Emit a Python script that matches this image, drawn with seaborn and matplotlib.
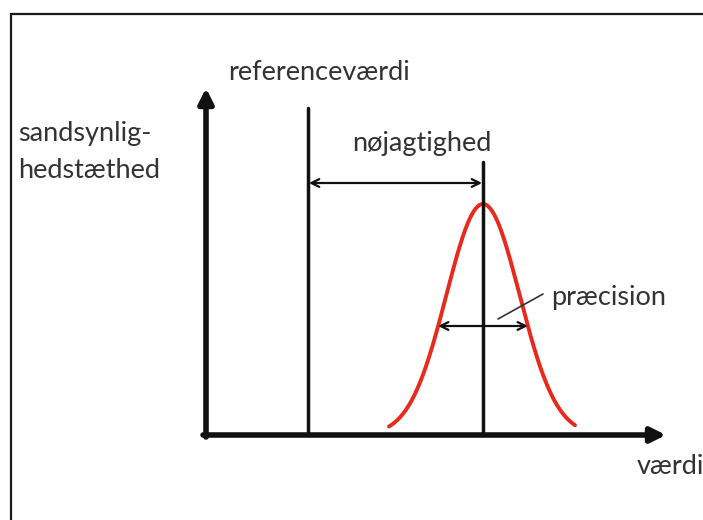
import numpy as np
import pandas as pd
import matplotlib
matplotlib.use("Agg")
import matplotlib.pyplot as plt
from matplotlib.patches import Rectangle
import seaborn as sns

# === Diagram values (origin of the drawn axes = 0,0) ===
reference_value = 102      # position of the reference line
measured_mean = 277        # centre of the distribution
measured_sigma = 36.6      # spread of the distribution
peak_height = 231          # height of the bell at the mean
curve_range = [183, 369]   # where the red bell is drawn

axis_x_end = 460
axis_y_end = 347
reference_top = 327
mean_top = 273
accuracy_level = 252       # height of the "nøjagtighed" arrow
precision_level = 109      # height of the "præcision" arrow

labels = ["referenceværdi", "sandsynlig-\nhedstæthed", "nøjagtighed", "præcision", "værdi"]

RED = "#e8291c"
TXT = "#333333"

sns.set_theme(style="white")
plt.rcParams["font.family"] = ["Lato", "DejaVu Sans"]

fig = plt.figure(figsize=(7.03, 5.20), dpi=100)
ax = fig.add_axes([0, 0, 1, 1])
ax.set_xlim(-206, 497)
ax.set_ylim(-85, 435)
ax.axis("off")

# frame around the figure (cut off at right and bottom)
ax.add_patch(Rectangle((-195, -120), 760, 541, fill=False, lw=1.6, ec="#1a1a1a"))

# bell curve
xs = np.linspace(curve_range[0], curve_range[1], 200)
curve = pd.DataFrame({"x": xs,
                      "density": peak_height * np.exp(-(xs - measured_mean) ** 2 / (2 * measured_sigma ** 2))})
sns.lineplot(data=curve, x="x", y="density", color=RED, lw=2.8, ax=ax)

# vertical lines
ax.plot([reference_value, reference_value], [0, reference_top], color="#111111", lw=2.5)
ax.plot([measured_mean, measured_mean], [0, mean_top], color="#111111", lw=2.5)

# main axes with filled arrow heads
ax.annotate("", xy=(axis_x_end, 0), xytext=(-3, 0),
            arrowprops=dict(arrowstyle="-|>", lw=4, color="#111111", mutation_scale=22, shrinkA=0, shrinkB=0))
ax.annotate("", xy=(0, axis_y_end), xytext=(0, -2),
            arrowprops=dict(arrowstyle="-|>", lw=4, color="#111111", mutation_scale=22, shrinkA=0, shrinkB=0))

# accuracy and precision arrows
ax.annotate("", xy=(measured_mean - 1, accuracy_level), xytext=(reference_value + 1, accuracy_level),
            arrowprops=dict(arrowstyle="<->", lw=1.6, color="#111111", mutation_scale=14, shrinkA=0, shrinkB=0))
half_width = measured_sigma * np.sqrt(2 * np.log(peak_height / precision_level))
ax.annotate("", xy=(measured_mean + half_width, precision_level),
            xytext=(measured_mean - half_width, precision_level),
            arrowprops=dict(arrowstyle="<->", lw=1.6, color="#111111", mutation_scale=14, shrinkA=0, shrinkB=0))
ax.plot([292, 337], [116, 141], color="#333333", lw=1.2)

fs = 19.5
ax.text(22, 362, labels[0], fontsize=fs, color=TXT, va="center", ha="left")
ax.text(-188, 283, labels[1], fontsize=fs, color=TXT, va="center", ha="left", linespacing=1.6)
ax.text(216, 292, labels[2], fontsize=fs, color=TXT, va="center", ha="center")
ax.text(345, 138, labels[3], fontsize=fs, color=TXT, va="center", ha="left")
ax.text(431, -32, labels[4], fontsize=fs, color=TXT, va="center", ha="left")

fig.savefig("out.png", dpi=100)
